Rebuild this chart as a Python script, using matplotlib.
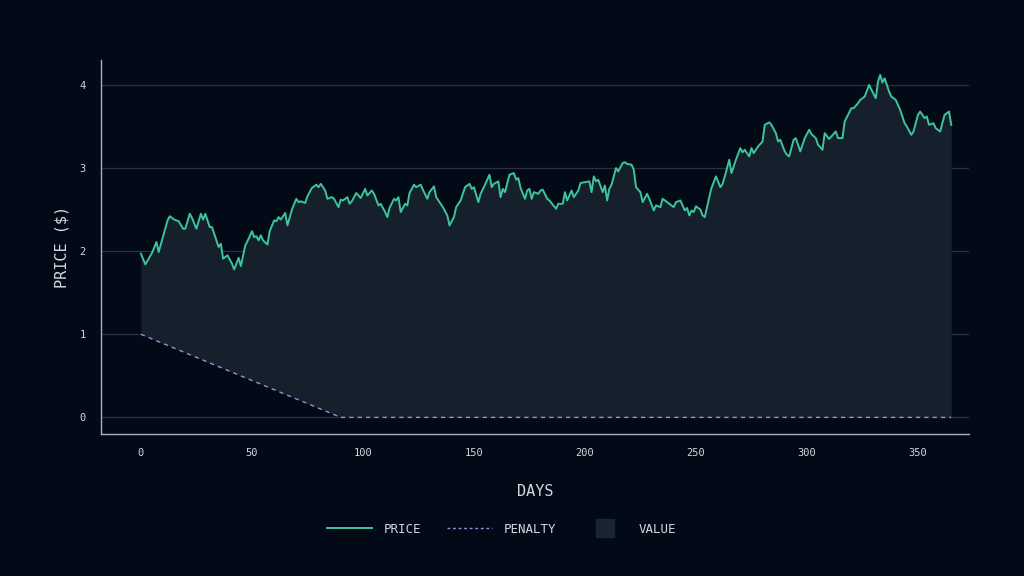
import matplotlib

matplotlib.use("Agg")
import matplotlib.pyplot as plt
import numpy as np
from matplotlib.lines import Line2D

# values
days = [
    0, 2, 5, 7, 8, 12, 13, 15, 17, 19, 20, 22, 23, 25, 27, 28, 29, 31, 32, 33,
    35, 36, 37, 39, 41, 42, 44, 45, 47, 48, 50, 51, 52, 53, 54, 55, 57, 58, 60, 61,
    62, 63, 65, 66, 68, 70, 71, 72, 74, 75, 77, 79, 80, 81, 83, 84, 86, 87, 89, 90,
    91, 93, 94, 95, 97, 98, 99, 101, 102, 104, 105, 107, 108, 110, 111, 112, 114, 115, 116, 117,
    119, 120, 121, 123, 124, 126, 127, 129, 130, 132, 133, 135, 136, 138, 139, 141, 142, 144, 146, 148,
    149, 150, 152, 153, 155, 157, 158, 159, 161, 162, 163, 164, 166, 168, 169, 170, 171, 173, 174, 175,
    176, 177, 179, 180, 181, 183, 184, 187, 188, 190, 191, 192, 194, 195, 197, 198, 200, 202, 203, 204,
    205, 206, 208, 209, 210, 211, 212, 214, 215, 217, 218, 219, 221, 222, 223, 225, 226, 228, 229, 231,
    232, 234, 235, 237, 238, 240, 241, 243, 245, 246, 247, 248, 249, 250, 252, 253, 254, 256, 257, 259,
    261, 262, 263, 265, 266, 268, 270, 271, 272, 274, 275, 276, 278, 280, 281, 283, 284, 286, 287, 288,
    290, 291, 292, 294, 295, 297, 299, 301, 302, 304, 305, 307, 308, 310, 311, 313, 314, 316, 317, 320,
    321, 323, 324, 326, 328, 331, 332, 333, 334, 335, 337, 338, 340, 342, 344, 345, 347, 348, 350, 351,
    353, 354, 355, 357, 358, 360, 361, 362, 364, 365,
]
price = [
    1.97, 1.84, 1.98, 2.11, 1.99, 2.37, 2.42, 2.38, 2.36, 2.27, 2.27, 2.45, 2.40, 2.27, 2.45, 2.38, 2.45, 2.29, 2.29, 2.21,
    2.05, 2.09, 1.91, 1.95, 1.85, 1.78, 1.92, 1.82, 2.07, 2.12, 2.24, 2.17, 2.18, 2.13, 2.19, 2.13, 2.08, 2.24, 2.37, 2.36,
    2.41, 2.38, 2.46, 2.31, 2.50, 2.63, 2.59, 2.60, 2.58, 2.66, 2.76, 2.80, 2.77, 2.81, 2.73, 2.63, 2.65, 2.63, 2.53, 2.62,
    2.61, 2.65, 2.57, 2.60, 2.70, 2.67, 2.64, 2.75, 2.67, 2.73, 2.69, 2.55, 2.57, 2.47, 2.41, 2.52, 2.63, 2.61, 2.65, 2.47,
    2.57, 2.55, 2.70, 2.80, 2.77, 2.80, 2.74, 2.63, 2.71, 2.78, 2.65, 2.57, 2.53, 2.43, 2.31, 2.41, 2.53, 2.61, 2.77, 2.81,
    2.75, 2.77, 2.59, 2.69, 2.80, 2.92, 2.77, 2.81, 2.84, 2.65, 2.75, 2.71, 2.92, 2.94, 2.86, 2.88, 2.76, 2.63, 2.73, 2.75,
    2.63, 2.71, 2.69, 2.73, 2.74, 2.63, 2.61, 2.51, 2.57, 2.57, 2.71, 2.61, 2.73, 2.65, 2.73, 2.82, 2.83, 2.84, 2.71, 2.90,
    2.84, 2.86, 2.71, 2.79, 2.61, 2.75, 2.80, 3.00, 2.96, 3.06, 3.07, 3.05, 3.04, 2.98, 2.77, 2.71, 2.59, 2.69, 2.63, 2.49,
    2.55, 2.53, 2.63, 2.59, 2.57, 2.53, 2.59, 2.61, 2.49, 2.52, 2.43, 2.49, 2.47, 2.54, 2.50, 2.43, 2.41, 2.65, 2.76, 2.90,
    2.77, 2.81, 2.90, 3.10, 2.94, 3.10, 3.24, 3.19, 3.22, 3.14, 3.24, 3.18, 3.26, 3.32, 3.52, 3.55, 3.52, 3.42, 3.32, 3.34,
    3.20, 3.16, 3.14, 3.34, 3.36, 3.20, 3.36, 3.46, 3.41, 3.36, 3.28, 3.22, 3.42, 3.35, 3.38, 3.44, 3.36, 3.36, 3.56, 3.72,
    3.72, 3.78, 3.82, 3.86, 4.00, 3.84, 4.04, 4.12, 4.03, 4.08, 3.92, 3.86, 3.82, 3.70, 3.54, 3.50, 3.40, 3.44, 3.64, 3.68,
    3.60, 3.62, 3.52, 3.54, 3.48, 3.44, 3.54, 3.64, 3.68, 3.52,
]
penalty_days = [0, 90, 365]
penalty_vals = [1.0, 0.0, 0.0]

BG = "#020a17"
LINE = "#3ec49a"
PEN = "#9b90d6"
FILL = "#15202c"
TXT = "#d4d8de"

plt.rcParams["font.family"] = ["DejaVu Sans Mono", "DejaVu Sans"]

fig = plt.figure(figsize=(10.24, 5.76), dpi=100, facecolor=BG)
ax = fig.add_axes([0.0986, 0.2465, 0.8477, 0.6493], facecolor=BG)

pen_interp = np.interp(days, penalty_days, penalty_vals)
ax.fill_between(days, pen_interp, price, color=FILL, lw=0, zorder=1)
ax.plot(days, price, color=LINE, lw=1.4, zorder=3)
ax.plot(penalty_days, penalty_vals, color=PEN, lw=1.0, ls=(0, (3, 3)), zorder=2)

ax.set_xlim(-18, 373)
ax.set_ylim(-0.2, 4.3)
ax.set_xticks([0, 50, 100, 150, 200, 250, 300, 350])
ax.set_yticks([0, 1, 2, 3, 4])
ax.grid(axis="y", color="#2a323e", lw=0.9, zorder=0)
ax.set_axisbelow(True)

for s in ["top", "right"]:
    ax.spines[s].set_visible(False)
for s in ["left", "bottom"]:
    ax.spines[s].set_color("#aab1bb")
    ax.spines[s].set_linewidth(1.0)

ax.tick_params(axis="both", length=0, colors=TXT, labelsize=7.5)
ax.tick_params(axis="x", pad=10)
ax.tick_params(axis="y", pad=11)

ax.set_xlabel("DAYS", color=TXT, fontsize=11, labelpad=19)
ax.set_ylabel("PRICE ($)", color=TXT, fontsize=11, labelpad=7)

handles = [
    Line2D([], [], color=LINE, lw=1.4),
    Line2D([], [], color=PEN, lw=1.0, ls=(0, (2, 2))),
    Line2D([], [], color="#1a2531", ls="none", marker="s", markersize=13),
]
leg = fig.legend(handles, ["PRICE", "PENALTY", "VALUE"],
                 loc="center", bbox_to_anchor=(0.49, 0.081), ncol=3, frameon=False,
                 fontsize=9, handlelength=3.6, columnspacing=2.1, handletextpad=0.9)
for t in leg.get_texts():
    t.set_color(TXT)

fig.savefig("out.png", dpi=100, facecolor=BG)
